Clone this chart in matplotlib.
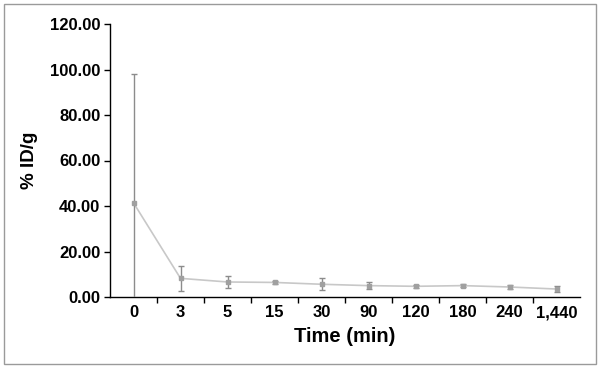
import numpy as np
import matplotlib.pyplot as plt
from matplotlib.patches import Rectangle

# Data
TIMES = ["0", "3", "5", "15", "30", "90", "120", "180", "240", "1,440"]
MEAN_IDG = [41.4, 8.2, 6.6, 6.4, 5.6, 5.0, 4.7, 5.0, 4.4, 3.5]
SD_IDG = [56.6, 5.6, 2.8, 0.8, 2.6, 1.4, 0.7, 0.7, 0.9, 1.5]
Y_TICKS = [0, 20, 40, 60, 80, 100, 120]


def plot_idg(output_path="out.png"):
    plt.rcParams["font.family"] = ["Liberation Sans", "DejaVu Sans"]
    fig = plt.figure(figsize=(6.0, 3.68), dpi=100)
    ax = fig.add_axes([110 / 600, 1 - 297 / 368, 470 / 600, 273 / 368])

    x = np.arange(len(TIMES))

    # light line with grey error bars
    ax.plot(x, MEAN_IDG, color="#c8c8c8", linewidth=1.2, zorder=2)
    ax.errorbar(
        x, MEAN_IDG, yerr=SD_IDG, fmt="s", markersize=2.5,
        color="#a0a0a0", ecolor="#8c8c8c", elinewidth=1.0,
        capsize=2.5, capthick=1.0, zorder=3,
    )

    ax.set_xlim(-0.5, len(TIMES) - 0.5)
    ax.set_ylim(0, 120)
    ax.set_yticks(Y_TICKS)
    ax.set_yticklabels([f"{v:.2f}" for v in Y_TICKS], fontsize=12, fontweight="bold")
    ax.set_xticks(x)
    ax.set_xticklabels(TIMES, fontsize=12, fontweight="bold")
    ax.set_xticks(np.arange(0.5, len(TIMES) - 0.5, 1), minor=True)
    ax.tick_params(axis="x", which="major", length=0, pad=6)
    ax.tick_params(axis="x", which="minor", length=4, direction="out", width=1)
    ax.tick_params(axis="y", length=4, direction="out", width=1, pad=3)

    for side in ["top", "right"]:
        ax.spines[side].set_visible(False)
    for side in ["left", "bottom"]:
        ax.spines[side].set_linewidth(1.0)

    ax.set_xlabel("Time (min)", fontsize=14.5, fontweight="bold", labelpad=5)
    ax.set_ylabel("% ID/g", fontsize=13.5, fontweight="bold", labelpad=10)
    ax.yaxis.set_label_coords(-72 / 470, 0.5)

    # grey frame around the whole figure
    fig.patches.append(Rectangle((4 / 600, 4 / 368), 592 / 600, 360 / 368,
                                 transform=fig.transFigure, fill=False,
                                 edgecolor="#9a9a9a", linewidth=1.0))

    fig.savefig(output_path, dpi=100)
    plt.close(fig)


if __name__ == "__main__":
    plot_idg("out.png")
